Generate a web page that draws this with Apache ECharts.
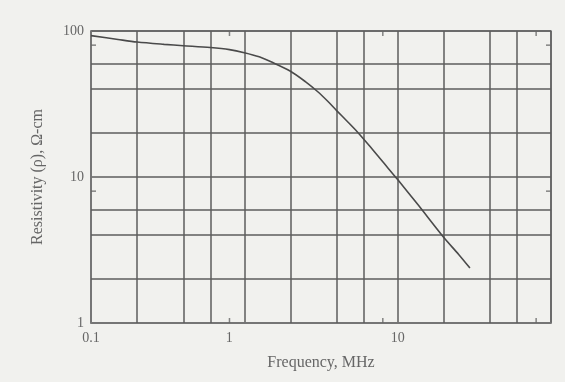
<!DOCTYPE html>
<html>
<head>
<meta charset="utf-8">
<script src="https://cdn.jsdelivr.net/npm/echarts@6/dist/echarts.min.js"></script>
<style>
html,body{margin:0;padding:0;background:#f1f1ee;}
#chart{width:565px;height:382px;}
</style>
</head>
<body>
<div id="chart"></div>
<script>
// Frequency (MHz) and resistivity (ohm-cm)
const freq = [0.1, 0.15, 0.2, 0.3, 0.4, 0.6, 0.8, 1, 1.25, 1.52, 2, 2.5, 3, 3.5, 4, 4.7, 5.5, 6.5, 8, 10, 13.5, 20, 25, 29.6];
const resistivity = [93, 87.5, 84, 81, 79.3, 77, 74.5, 71, 66.5, 61, 53, 45, 38.5, 33, 28.5, 24, 20.2, 16.5, 12.7, 9.6, 6.5, 3.85, 2.95, 2.38];
// Intermediate grid lines
const gridXValues = [0.2, 0.4, 0.6, 2, 4, 6, 20, 40, 60];
const gridYValues = [2, 4, 6, 20, 40, 60];
// Small tick marks on the frame
const minorTickX = [0.8, 8, 80];
const minorTickY = [8, 80];
const xAxisTitle = 'Frequency, MHz';
const yAxisTitle = 'Resistivity (\u03c1), \u03a9-cm';

const gridColor = '#5c5c5c';
const textColor = '#666';
const serif = '"Liberation Serif", "DejaVu Serif", serif';

const chart = echarts.init(document.getElementById('chart'), null, {renderer: 'canvas'});

const markLineData = [];
gridXValues.forEach(v => markLineData.push({xAxis: v}));
gridYValues.forEach(v => markLineData.push({yAxis: v}));

const tickBottom = minorTickX.map(v => [v, 1]);
const tickTop = minorTickX.map(v => [v, 100]);
const tickLeft = minorTickY.map(v => [0.1, v]);
const tickRight = minorTickY.map(v => [100, v]);

const tickSeries = (data, size, offset) => ({
  type: 'scatter', data: data, symbol: 'rect', symbolSize: size, symbolOffset: offset,
  itemStyle: {color: '#666'}, silent: true, z: 4, clip: false
});

chart.setOption({
  backgroundColor: '#f1f1ee',
  animation: false,
  grid: {left: 91, right: 14, top: 31, bottom: 59, show: true, borderColor: '#7a7a7a', borderWidth: 1.5, backgroundColor: 'transparent'},
  xAxis: {
    type: 'log', logBase: 10, min: 0.1, max: 100,
    name: xAxisTitle, nameLocation: 'middle', nameGap: 32,
    nameTextStyle: {fontFamily: serif, fontSize: 16, color: textColor},
    axisLine: {show: true, lineStyle: {color: '#7a7a7a', width: 1.5}},
    axisTick: {show: false},
    axisLabel: {fontFamily: serif, fontSize: 14, color: textColor, margin: 8,
      formatter: v => (v >= 100 ? '' : (v === 1 ? '{shift|1}' : String(v))),
      rich: {shift: {fontFamily: serif, fontSize: 14, color: textColor, padding: [0, 30, 0, 0]}}},
    splitLine: {show: true, lineStyle: {color: gridColor, width: 1.5}},
    minorTick: {show: false}, minorSplitLine: {show: false}
  },
  yAxis: {
    type: 'log', logBase: 10, min: 1, max: 100,
    name: yAxisTitle, nameLocation: 'middle', nameGap: 45, nameRotate: 90,
    nameTextStyle: {fontFamily: serif, fontSize: 16, color: textColor},
    axisLine: {show: true, lineStyle: {color: '#7a7a7a', width: 1.5}},
    axisTick: {show: false},
    axisLabel: {fontFamily: serif, fontSize: 14, color: textColor, margin: 7},
    splitLine: {show: true, lineStyle: {color: gridColor, width: 1.5}},
    minorTick: {show: false}, minorSplitLine: {show: false}
  },
  series: [
    {
      type: 'line', data: freq.map((f, i) => [f, resistivity[i]]),
      smooth: 0.3, showSymbol: false, z: 5,
      lineStyle: {color: '#4a4a4a', width: 1.6},
      markLine: {
        silent: true, symbol: ['none', 'none'], label: {show: false},
        lineStyle: {color: gridColor, width: 1.5, type: 'solid'},
        data: markLineData, animation: false
      }
    },
    tickSeries(tickBottom, [1.5, 5], [0, -2.5]),
    tickSeries(tickTop, [1.5, 5], [0, 2.5]),
    tickSeries(tickLeft, [5, 1.5], [2.5, 0]),
    tickSeries(tickRight, [5, 1.5], [-2.5, 0])
  ]
});
</script>
</body>
</html>
